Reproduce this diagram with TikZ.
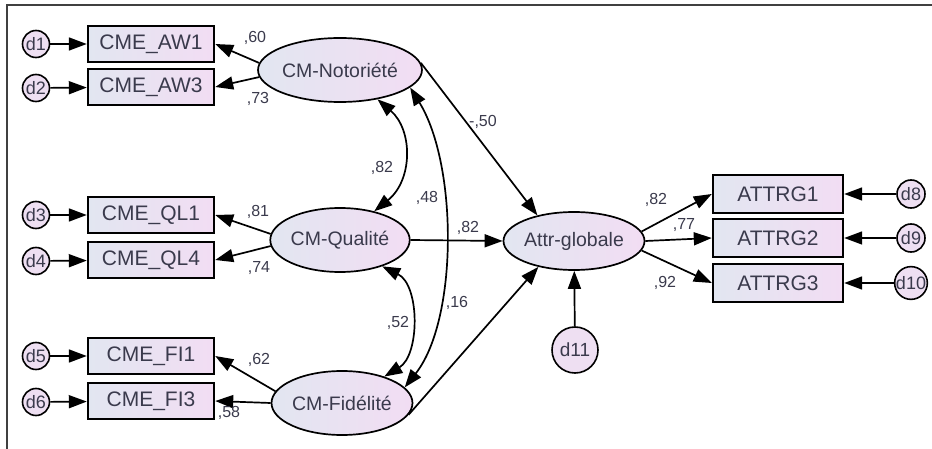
\documentclass[tikz,border=0pt]{standalone}
\usepackage{fontspec}
\setmainfont{Liberation Sans}
\usetikzlibrary{arrows.meta,shapes.geometric}

\definecolor{fillL}{HTML}{E2E6F1}
\definecolor{fillR}{HTML}{F2DDF3}
\definecolor{errfill}{HTML}{EEDFF2}
\definecolor{ink}{HTML}{3A3A4C}

\begin{document}
\begin{tikzpicture}[x=1pt,y=-1pt,
    obs/.style={draw, line width=2.4pt, left color=fillL, right color=fillR, minimum width=126pt, minimum height=36pt, inner sep=0pt, text=ink, font=\fontsize{21}{24}\selectfont},
    lat/.style={draw, ellipse, line width=1.7pt, left color=fillL, right color=fillR, minimum width=135pt, minimum height=64pt, inner sep=0pt, text=ink, font=\fontsize{19.5}{22}\selectfont},
    err/.style={draw, circle, line width=1.6pt, fill=errfill, minimum size=27pt, inner sep=0pt, text=ink, font=\fontsize{18}{20}\selectfont},
    arr/.style={line width=1.7pt, -{Triangle[length=18pt,width=13pt]}},
    cov/.style={line width=1.7pt, {Triangle[length=18pt,width=13pt]}-{Triangle[length=18pt,width=13pt]}},
    coef/.style={text=ink, inner sep=0pt, font=\fontsize{16}{18}\selectfont}]

    \useasboundingbox (0,0) rectangle (932,449);
    \draw[line width=1.3pt, black!75] (7,449) -- (7,5) -- (932,5);

    \node[err] (d1) at (36,44) {d1};
    \node[err] (d2) at (36,88) {d2};
    \node[err] (d3) at (36,215) {d3};
    \node[err] (d4) at (36,261) {d4};
    \node[err] (d5) at (36,356) {d5};
    \node[err] (d6) at (36,402) {d6};

    \node[obs] (aw1) at (151,44) {CME\_AW1};
    \node[obs] (aw3) at (151,87) {CME\_AW3};
    \node[obs] (ql1) at (151,215) {CME\_QL1};
    \node[obs] (ql4) at (151,260) {CME\_QL4};
    \node[obs] (fi1) at (151,356) {CME\_FI1};
    \node[obs] (fi3) at (151,401) {CME\_FI3};

    \node[lat] (noto) at (340,70) {CM-Notoriété};
    \node[lat] (qual) at (340,240) {CM-Qualité};
    \node[lat, minimum width=140pt] (fid) at (342,403) {CM-Fidélité};
    \node[lat, minimum width=132pt, minimum height=58pt] (attr) at (574,241) {Attr-globale};

    \node[obs, minimum width=130pt, minimum height=38pt] (g1) at (778,194) {ATTRG1};
    \node[obs, minimum width=130pt, minimum height=38pt] (g2) at (778,238) {ATTRG2};
    \node[obs, minimum width=130pt, minimum height=38pt] (g3) at (778,283) {ATTRG3};

    \node[err, minimum size=28pt] (d8) at (911,194) {d8};
    \node[err, minimum size=28pt] (d9) at (911,238) {d9};
    \node[err, minimum size=28pt] (d10) at (911,283) {d10};
    \node[err, minimum size=46pt, font=\fontsize{19}{20}\selectfont] (d11) at (575,350) {d11};

    \draw[arr] (d1) -- (aw1);
    \draw[arr] (d2) -- (aw3);
    \draw[arr] (d3) -- (ql1);
    \draw[arr] (d4) -- (ql4);
    \draw[arr] (d5) -- (fi1);
    \draw[arr] (d6) -- (fi3);

    \draw[arr] (noto.175) -- (aw1.east);
    \draw[arr] (noto.185) -- (aw3.east);
    \draw[arr] (qual.175) -- (ql1.east);
    \draw[arr] (qual.185) -- (ql4.east);
    \draw[arr] (fid.170) -- (fi1.east);
    \draw[arr] (fid.west) -- (fi3.east);

    \draw[cov] (noto.-38) .. controls (413,130) and (413,180) .. (qual.40);
    \draw[cov] (noto.-14) .. controls (458,165) and (458,320) .. (fid.14);
    \draw[cov] (qual.-32) .. controls (420,285) and (420,355) .. (fid.32);

    \draw[arr] (noto.5) -- (attr.145);
    \draw[arr] (qual.east) -- (attr.west);
    \draw[arr] (fid.-10) -- (attr.216);
    \draw[arr] (d11) -- (attr);

    \draw[arr] (attr.8) -- (g1.west);
    \draw[arr] (attr.east) -- (g2.west);
    \draw[arr] (attr.-8) -- (g3.west);
    \draw[arr] (d8) -- (g1);
    \draw[arr] (d9) -- (g2);
    \draw[arr] (d10) -- (g3);

    \node[coef] (caw1) at (255,38) {,60};
    \node[coef] (caw3) at (258,99) {,73};
    \node[coef] (cql1) at (258,212) {,81};
    \node[coef] (cql4) at (259,268) {,74};
    \node[coef] (cfi1) at (259,360) {,62};
    \node[coef] (cfi3) at (229,413) {,58};
    \node[coef] (cnoto) at (483,122) {-,50};
    \node[coef] (cqual) at (468,228) {,82};
    \node[coef] (cfid) at (457,303) {,16};
    \node[coef] (cnq) at (382,168) {,82};
    \node[coef] (cnf) at (427,198) {,48};
    \node[coef] (cqf) at (398,323) {,52};
    \node[coef] (cg1) at (656,200) {,82};
    \node[coef] (cg2) at (684,225) {,77};
    \node[coef] (cg3) at (665,283) {,92};

\end{tikzpicture}
\end{document}
